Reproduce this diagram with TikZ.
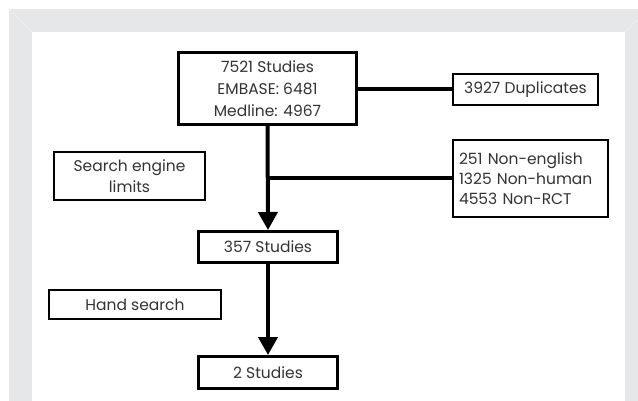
\documentclass[tikz,border=0pt]{standalone}
\usepackage{fontspec}
\setmainfont{Poppins}
\usetikzlibrary{arrows.meta}
\definecolor{framegray}{HTML}{E6E7E8}
\definecolor{bevel}{HTML}{F1F2F2}
\definecolor{txt}{HTML}{333333}
\begin{document}
\begin{tikzpicture}[x=1pt,y=-1pt,
  box/.style={draw=black, fill=white, text=txt, align=center, inner sep=0pt,
    font=\fontsize{15.5}{21}\selectfont},
  heavybox/.style={box, line width=3pt},
  lightbox/.style={box, line width=1.8pt},
  conn/.style={line width=4pt, black},
  flowarrow/.style={conn, -{Triangle[width=19pt,length=18pt]}}]
\useasboundingbox (0,0) rectangle (638,401);
\fill[framegray] (9,9) rectangle (638,401);
\fill[white] (32,32) rectangle (625,401);
\draw[bevel, line width=0.7pt] (9,9) -- (32,32);
\draw[bevel, line width=0.7pt] (625,32) -- (638,19);
% nodes
\node[heavybox, minimum width=178pt, minimum height=72pt, font=\fontsize{15.5}{22}\selectfont]
  (top) at (267.5,88.5) {7521 Studies\\EMBASE: 6481\\Medline: 4967};
\node[lightbox, minimum width=145pt, minimum height=31pt] (dup) at (525.5,89.5) {3927 Duplicates};
\node[lightbox, align=left, text width=143pt, inner xsep=6pt, minimum height=77pt,
  font=\fontsize{15.5}{20}\selectfont]
  (excl) at (530.5,178.5) {251 Non-english\\1325 Non-human\\4553 Non-RCT};
\node[lightbox, minimum width=151pt, minimum height=48pt] (search) at (129.5,176) {Search engine\\limits};
\node[heavybox, minimum width=139pt, minimum height=31pt] (s357) at (268,247) {357 Studies};
\node[lightbox, minimum width=172pt, minimum height=29pt] (hand) at (135,304.5) {Hand search};
\node[heavybox, minimum width=139pt, minimum height=32pt] (s2) at (268,372.5) {2 Studies};
% connectors
\draw[conn] (dup.west) -- (dup.west -| top.east);
\draw[conn] (excl.west) -- (excl.west -| top.south);
\draw[flowarrow] (top.south) -- (s357.north);
\draw[flowarrow] (s357.south) -- (s2.north);
\end{tikzpicture}
\end{document}
